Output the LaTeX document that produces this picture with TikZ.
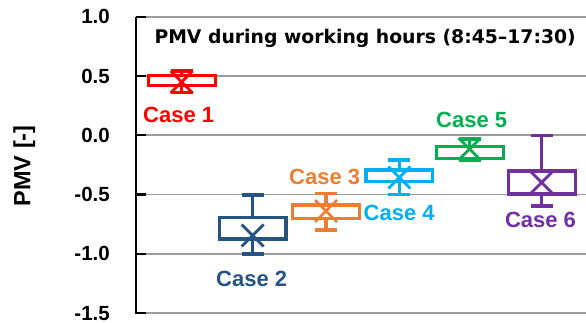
\documentclass[tikz,border=0pt]{standalone}
\usepackage{fontspec}
\setmainfont{Liberation Sans}
\newfontfamily\titlefont{DejaVu Sans}
\definecolor{gridgray}{RGB}{155,155,155}
\definecolor{caseA}{RGB}{255,0,0}
\definecolor{caseB}{RGB}{37,84,132}
\definecolor{caseC}{RGB}{237,125,49}
\definecolor{caseD}{RGB}{0,176,240}
\definecolor{caseE}{RGB}{0,176,80}
\definecolor{caseF}{RGB}{112,48,160}
\tikzset{
  gridline/.style={draw=gridgray,line width=1.7pt},
  axisline/.style={draw=black,line width=2.2pt},
  ticklabel/.style={anchor=east,inner sep=0pt,font=\bfseries\fontsize{20.5}{24}\selectfont},
  caselabel/.style={inner sep=0pt,font=\bfseries\fontsize{22}{26}\selectfont},
  bpline/.style={line width=3.2pt},
  xmark/.style={line width=2.8pt},
}
% #1 colour, #2 centre x, #3 box top, #4 box bottom, #5 whisker top, #6 whisker bottom, #7 mean (all in px)
\newcommand\bplot[7]{%
  \draw[bpline,#1,fill=white] (#2-33.4,#3) rectangle (#2+33.4,#4);
  \draw[bpline,#1] (#2,#5) -- (#2,#3) (#2,#4) -- (#2,#6);
  \draw[bpline,#1] (#2-11,#5) -- (#2+11,#5) (#2-11,#6) -- (#2+11,#6);
  \draw[xmark,#1] (#2-11,#7-11) -- (#2+11,#7+11) (#2-11,#7+11) -- (#2+11,#7-11);
}
\begin{document}
\begin{tikzpicture}[x=1pt,y=-1pt]
\useasboundingbox (0,0) rectangle (586,323);
% grid
\foreach \v/\lab [count=\i] in {1.0/1.0,0.5/0.5,0.0/0.0,-0.5/-0.5,-1.0/-1.0,-1.5/-1.5}{
  \draw[gridline] (136,{135.3-118.6*\v}) -- (586,{135.3-118.6*\v});
  \draw[axisline] (136,{135.3-118.6*\v}) -- (146,{135.3-118.6*\v});
  \node[ticklabel] (t\i) at (110,{135.3-118.6*\v}) {\lab};
}
\draw[axisline] (136,16.6) -- (136,314);
% axis title
\node[rotate=90,inner sep=0pt,font=\bfseries\fontsize{23.5}{28}\selectfont] (ylab) at (24.2,165.8) {PMV [-]};
% title
\node[anchor=base west,inner sep=0pt,font=\titlefont\bfseries\fontsize{18.8}{22}\selectfont] (title) at (154.3,43.3) {PMV during working hours (8:45–17:30)};
% box plots
\bplot{caseA}{181.7}{75.7}{85.3}{71}{92.7}{82}
\bplot{caseB}{252.6}{217.5}{239}{195}{254}{235.5}
\bplot{caseC}{326}{205}{218.5}{193.5}{230}{211}
\bplot{caseD}{399.4}{170}{181.7}{160}{194.3}{177.5}
\bplot{caseE}{469.7}{146.7}{158.3}{139}{160}{149}
\bplot{caseF}{541.7}{171}{194}{135.3}{206}{182.5}
% labels
\node[caselabel,text=caseA] (l1) at (178.7,114.5) {Case 1};
\node[caselabel,text=caseB] (l2) at (251.7,278.8) {Case 2};
\node[caselabel,text=caseC] (l3) at (324.7,177) {Case 3};
\node[caselabel,text=caseD] (l4) at (399.2,212.8) {Case 4};
\node[caselabel,text=caseE] (l5) at (471.7,119.5) {Case 5};
\node[caselabel,text=caseF] (l6) at (540.5,220) {Case 6};
\end{tikzpicture}
\end{document}
